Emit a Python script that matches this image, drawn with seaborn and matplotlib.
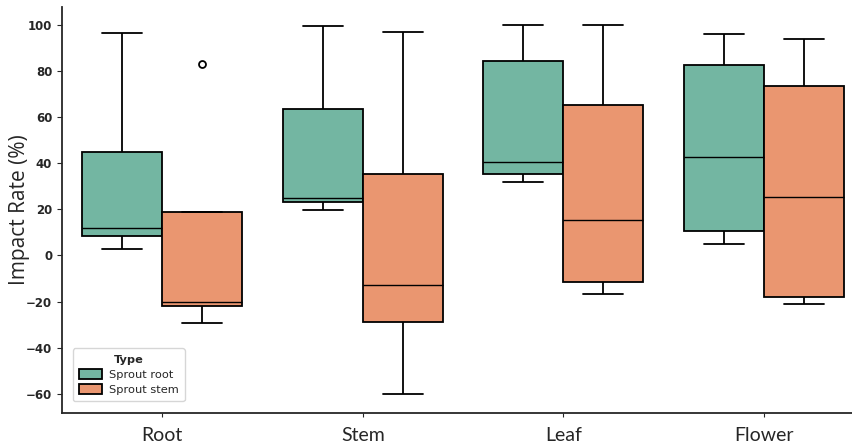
import numpy as np
import pandas as pd
import matplotlib
matplotlib.use("Agg")
import matplotlib.pyplot as plt
import seaborn as sns

categories = ["Root", "Stem", "Leaf", "Flower"]
types = ["Sprout root", "Sprout stem"]

# Box statistics (lower whisker, Q1, median, Q3, upper whisker)
root_low = [2.9, 19.8, 31.9, 4.9]
root_q1 = [8.4, 23.1, 35.2, 10.5]
root_med = [12.1, 25.0, 40.7, 42.6]
root_q3 = [44.8, 63.3, 84.1, 82.5]
root_high = [96.5, 99.4, 99.8, 96.2]

stem_low = [-29.3, -60.2, -16.9, -21.0]
stem_q1 = [-22.0, -29.0, -11.3, -18.2]
stem_med = [-20.2, -12.9, 15.4, 25.4]
stem_q3 = [18.8, 35.2, 65.4, 73.4]
stem_high = [18.8, 96.8, 99.8, 93.9]

# outliers (category, type, value)
outlier_cat = ["Root"]
outlier_type = ["Sprout stem"]
outlier_val = [82.8]

colors = ["#73b6a2", "#ea9670"]


def sample(lo, q1, med, q3, hi, extra=None):
    # 9 values whose quartiles (linear) equal q1 / med / q3
    vals = [lo, q1, q1, med, med, med, q3, hi, hi]
    if extra is not None:
        vals[-1] = extra
    return vals


rows = []
stats = {
    "Sprout root": (root_low, root_q1, root_med, root_q3, root_high),
    "Sprout stem": (stem_low, stem_q1, stem_med, stem_q3, stem_high),
}
for t in types:
    lo, q1, md, q3, hi = stats[t]
    for i, c in enumerate(categories):
        extra = None
        for oc, ot, ov in zip(outlier_cat, outlier_type, outlier_val):
            if oc == c and ot == t:
                extra = ov
        for v in sample(lo[i], q1[i], md[i], q3[i], hi[i], extra):
            rows.append({"Part": c, "Type": t, "Impact": v})
df = pd.DataFrame(rows)

sns.set_style("ticks")
plt.rcParams["font.family"] = ["DejaVu Sans"]

fig = plt.figure(figsize=(8.52, 4.46), dpi=100)
ax = fig.add_axes([62 / 852, 1 - 413 / 446, (852 - 62) / 852, (413 - 7) / 446])

sns.boxplot(data=df, x="Part", y="Impact", hue="Type", order=categories,
            hue_order=types, palette=colors, saturation=1, width=0.8, gap=0,
            linewidth=1.3, linecolor="black",
            flierprops=dict(marker="o", markersize=5, markerfacecolor="white",
                            markeredgecolor="black", markeredgewidth=1.3),
            medianprops=dict(linewidth=1.0),
            ax=ax)

sns.despine(ax=ax)
ax.set_xlim(-0.5, 3.44)
ax.set_ylim(-68.3, 107.7)
ax.set_yticks([-60, -40, -20, 0, 20, 40, 60, 80, 100])
ax.set_xlabel("")
ax.set_ylabel("Impact Rate (%)", fontsize=15, family="Open Sans",
              fontweight="medium")
ax.yaxis.set_label_coords(-0.040, 0.5)
for lab in ax.get_yticklabels():
    lab.set_fontweight("bold")
    lab.set_fontsize(8.5)
for lab in ax.get_xticklabels():
    lab.set_fontsize(14)
    lab.set_family("Lato")
ax.tick_params(axis="x", pad=7, length=3)
ax.tick_params(axis="y", length=3.5)
for s in ax.spines.values():
    s.set_linewidth(1.3)

leg = ax.legend(title="Type", loc="lower left", fontsize=8.2, title_fontsize=8.2,
                bbox_to_anchor=(5 / 790, 6 / 406), handlelength=2.0,
                handleheight=0.9, borderpad=0.55, labelspacing=0.4,
                handletextpad=0.6, frameon=True)
leg.get_title().set_fontweight("bold")

fig.savefig("out.png", dpi=100)
